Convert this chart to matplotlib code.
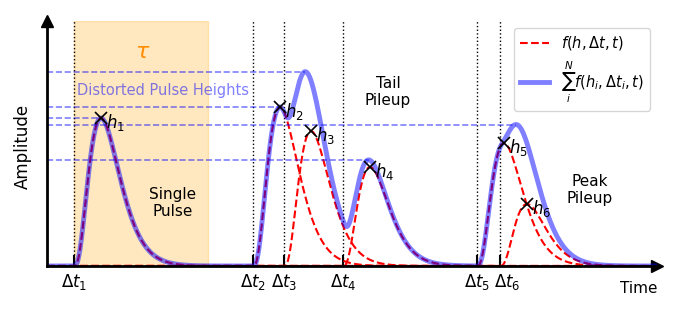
import numpy as np
import matplotlib
matplotlib.use("Agg")
import matplotlib.pyplot as plt
import matplotlib.transforms as mtransforms

# ---- data ----
dts = [2.7, 20.6, 23.7, 29.6, 43.0, 45.3]          # pulse arrival times
heights = [0.604, 0.649, 0.551, 0.404, 0.502, 0.253]  # true pulse heights
tick_labels = [r"$\Delta t_1$", r"$\Delta t_2$", r"$\Delta t_3$",
               r"$\Delta t_4$", r"$\Delta t_5$", r"$\Delta t_6$"]
h_labels = [r"$h_1$", r"$h_2$", r"$h_3$", r"$h_4$", r"$h_5$", r"$h_6$"]
peak_time = 2.7       # rise time to peak
tau_end = 16.1        # end of the shaded tau window
order = 3

t = np.linspace(0, 61, 3000)


def pulse(h, dt, tt):
    s = np.clip(tt - dt, 0, None) / peak_time
    return h * s**order * np.exp(order * (1 - s))


fig = plt.figure(figsize=(6.78, 3.13), dpi=100)
ax = fig.add_axes([47/678, 47/313, 610/678, 245/313])
ax.set_xlim(0, 61)
ax.set_ylim(0, 1)

blue = (0, 0, 1, 0.5)

# shaded tau window
ax.axvspan(dts[0], tau_end, color="orange", alpha=0.25, zorder=0)
ax.text((dts[0] + tau_end) / 2 + 0.2, 0.873, r"$\tau$", color="darkorange",
        fontsize=16, ha="center", va="center")

# vertical dotted lines
ax.vlines(dts, 0, 1, colors="k", linestyles=":", lw=1.0, zorder=1)

total = np.zeros_like(t)
for i, (h, dt) in enumerate(zip(heights, dts)):
    y = pulse(h, dt, t)
    total += y
    ax.plot(t, y, "r--", lw=1.5, zorder=2,
            label=r"$f(h, \Delta t, t)$" if i == 0 else None)

ax.plot(t, total, color=blue, lw=3.5, zorder=3,
        label=r"$\sum_{i}^{N} f(h_i, \Delta t_i, t)$")

# distorted pulse heights: local maxima of summed signal
idx = np.where((total[1:-1] > total[:-2]) & (total[1:-1] >= total[2:]) &
               (total[1:-1] > 0.01))[0] + 1
ax.hlines(total[idx], 0, t[idx], colors=[blue], linestyles="--", lw=1.2,
          zorder=2)
ax.text(11.6, 0.718, "Distorted Pulse Heights", color=blue, fontsize=10.5,
        ha="center", va="center")

# markers
for h, dt, lab in zip(heights, dts, h_labels):
    ax.plot(dt + peak_time, h, "kx", ms=8, mew=1.2, zorder=5)
    ax.annotate(lab, (dt + peak_time, h), xytext=(3.5, -3.5),
                textcoords="offset points", ha="left", va="center",
                fontsize=12, zorder=6)

# annotations
ax.text(12.6, 0.257, "Single\nPulse", ha="center", va="center", fontsize=11,
        linespacing=1.1)
ax.text(34.1, 0.71, "Tail\nPileup", ha="center", va="center", fontsize=11,
        linespacing=1.1)
ax.text(54.3, 0.31, "Peak\nPileup", ha="center", va="center", fontsize=11,
        linespacing=1.1)

# axes styling
for s in ["top", "right"]:
    ax.spines[s].set_visible(False)
for s in ["left", "bottom"]:
    ax.spines[s].set_linewidth(2)
    ax.spines[s].set_zorder(4)
ax.set_yticks([])
ax.set_xticks(dts, tick_labels, fontsize=12)
ax.tick_params(axis="x", direction="in", length=8, width=1.5, pad=4)
# nudge the last label so it does not touch its neighbour
lbl = ax.get_xticklabels()[-1]
lbl.set_transform(lbl.get_transform() +
                  mtransforms.ScaledTranslation(7/100, 0, fig.dpi_scale_trans))
ax.plot(1, 0, ">k", ms=9, transform=ax.get_yaxis_transform(), clip_on=False)
ax.plot(0, 1, "^k", ms=9, transform=ax.get_xaxis_transform(), clip_on=False)

ax.text(1.0, -0.09, "Time", transform=ax.transAxes, ha="right", va="center",
        fontsize=11)
ax.text(-0.04, 0.49, "Amplitude", transform=ax.transAxes, ha="center",
        va="center", rotation=90, fontsize=12)

ax.legend(loc="upper right", fontsize=10.5)

fig.savefig("out.png", dpi=100)
